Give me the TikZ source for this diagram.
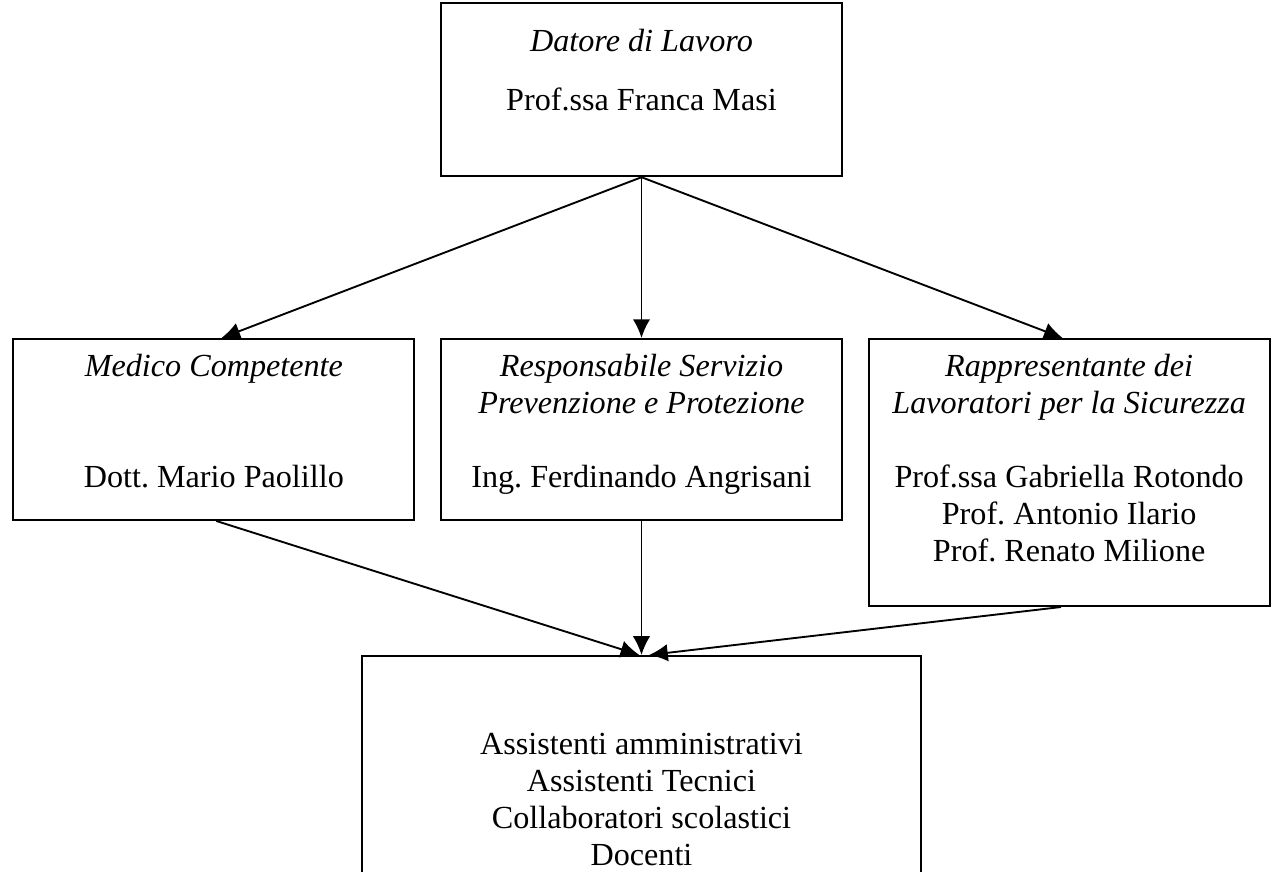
\documentclass[tikz,border=0pt]{standalone}
\usepackage{fontspec}
\setmainfont{Liberation Serif}
\usetikzlibrary{arrows.meta, positioning}
\frenchspacing

\tikzset{
  box/.style={draw, line width=0.75pt, minimum width=149.6pt, inner sep=0pt},
  txt/.style={align=center, inner sep=0pt, font=\fontsize{12}{13.8}\selectfont},
  link/.style={line width=0.7pt, -{Latex[length=7pt,width=6.5pt]}}
}

\begin{document}
\begin{tikzpicture}[x=0.3731pt, y=-0.3731pt]
\useasboundingbox (0,0) rectangle (1277,872);
\clip (0,0) rectangle (1277,872);

\node[box, minimum height=67.5pt] (rspp) at (641.5,429.5) {};
\node[box, minimum height=67.5pt, left=9.2pt of rspp] (medico) {};
\node[box, minimum height=99.6pt, anchor=north west] (rls) at ([xshift=9.2pt]rspp.north east) {};
\node[box, minimum height=64.5pt, anchor=south] (datore) at ([yshift=60pt]rspp.north) {};
\node[box, minimum width=208.2pt, minimum height=89.5pt, anchor=north] (staff) at ([yshift=-50pt]rspp.south) {};

\node[txt, below=10pt of datore.north] (datoretxt) {\textit{Datore di Lavoro}\\[8.2pt] Prof.ssa Franca Masi};
\node[txt, below=6pt of medico.north] (medicotxt) {\textit{Medico Competente}\\[27.6pt] Dott. Mario Paolillo};
\node[txt, below=6pt of rspp.north] (rspptxt) {\textit{Responsabile Servizio}\\ \textit{Prevenzione e Protezione}\\[13.8pt] Ing. Ferdinando Angrisani};
\node[txt, below=6pt of rls.north] (rlstxt) {\textit{Rappresentante dei}\\ \textit{Lavoratori per la Sicurezza}\\[13.8pt] Prof.ssa Gabriella Rotondo\\ Prof. Antonio Ilario\\ Prof. Renato Milione};
\node[txt, below=29pt of staff.north] (stafftxt) {Assistenti amministrativi\\ Assistenti Tecnici\\ Collaboratori scolastici\\ Docenti};

\draw[link] (datore.south) -- ([xshift=2.8pt]medico.north);
\draw[link] (datore.south) -- (rspp.north);
\draw[link] (datore.south) -- ([xshift=-2.4pt]rls.north);
\draw[link] ([xshift=0.9pt]medico.south) -- ([xshift=-0.8pt]staff.north);
\draw[link] (rspp.south) -- (staff.north);
\draw[link] ([xshift=-3pt]rls.south) -- ([xshift=2.8pt]staff.north);
\end{tikzpicture}
\end{document}
